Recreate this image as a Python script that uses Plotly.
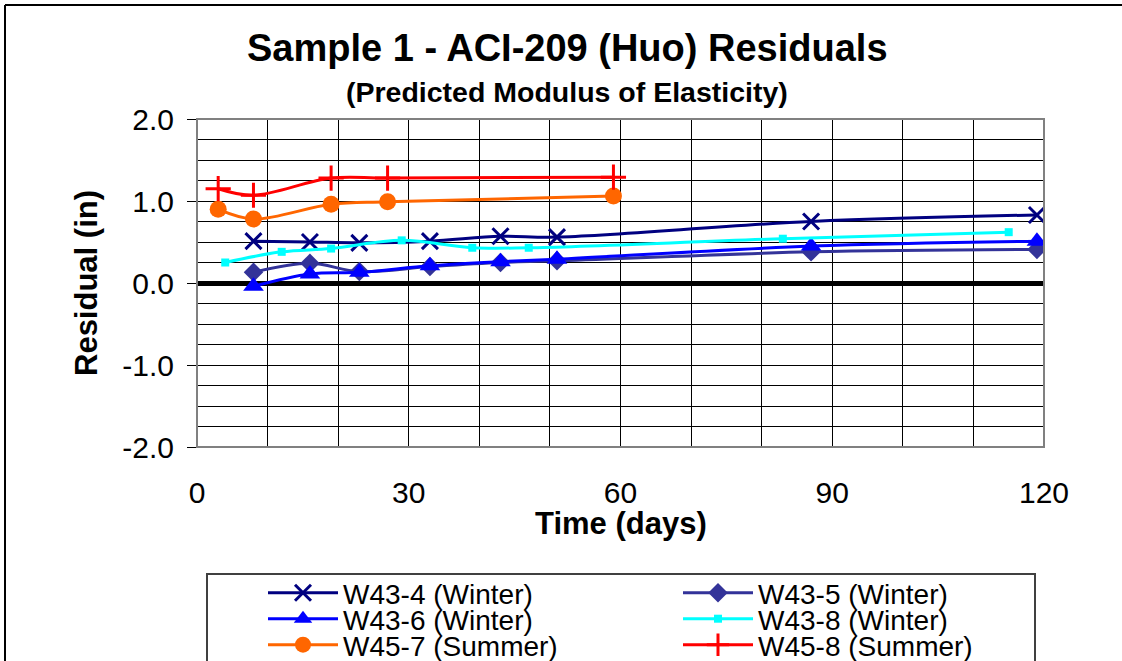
import plotly.graph_objects as go

# Residuals of predicted modulus of elasticity, per specimen
w43_4_days = [8, 16, 23, 33, 43, 51, 87, 119]
w43_4_res = [0.51, 0.50, 0.49, 0.51, 0.57, 0.56, 0.75, 0.83]

w43_5_days = [8, 16, 23, 33, 43, 51, 87, 119]
w43_5_res = [0.13, 0.24, 0.14, 0.20, 0.25, 0.27, 0.38, 0.41]

w43_6_days = [8, 16, 23, 33, 43, 51, 87, 119]
w43_6_res = [-0.04, 0.11, 0.13, 0.21, 0.26, 0.29, 0.45, 0.51]

w43_8_days = [4, 12, 19, 29, 39, 47, 83, 115]
w43_8_res = [0.25, 0.38, 0.42, 0.52, 0.43, 0.43, 0.54, 0.62]

w45_7_days = [3, 8, 19, 27, 59]
w45_7_res = [0.90, 0.78, 0.96, 0.99, 1.06]

w45_8_days = [3, 8, 19, 27, 59]
w45_8_res = [1.15, 1.07, 1.28, 1.28, 1.29]

x_ticks = [0, 30, 60, 90, 120]
y_ticks = [-2.0, -1.0, 0.0, 1.0, 2.0]

FONT = "Arial, Liberation Sans, sans-serif"
W, H = 1122, 661
ML, MR, MT, MB = 197, 78, 119, 214
PW, PH = W - ML - MR, H - MT - MB


def px_x(px):
    return (px - ML) / PW


def px_y(py):
    return (H - MB - py) / PH


series = [
    ("W43-4 (Winter)", w43_4_days, w43_4_res, "#000080",
     dict(symbol="x-thin-open", size=16, line=dict(width=3, color="#000080"))),
    ("W43-5 (Winter)", w43_5_days, w43_5_res, "#333399",
     dict(symbol="diamond", size=15, color="#333399")),
    ("W43-6 (Winter)", w43_6_days, w43_6_res, "#0000FF",
     dict(symbol="triangle-up", size=18, color="#0000FF")),
    ("W43-8 (Winter)", w43_8_days, w43_8_res, "#00FFFF",
     dict(symbol="square", size=8, color="#00FFFF")),
    ("W45-7 (Summer)", w45_7_days, w45_7_res, "#FF6600",
     dict(symbol="circle", size=17, color="#FF6600")),
    ("W45-8 (Summer)", w45_8_days, w45_8_res, "#FF0000",
     dict(symbol="cross-thin-open", size=18, line=dict(width=3, color="#FF0000"))),
]

# legend slots (container pixels): two columns, three rows
legend_cols = [263, 678]
legend_rows = [593, 619, 645]

fig = go.Figure()
layout_legends = {}
for i, (name, xs, ys, color, marker) in enumerate(series):
    key = "legend" if i == 0 else f"legend{i + 1}"
    fig.add_trace(go.Scatter(
        x=xs, y=ys, name=name, mode="lines+markers",
        line=dict(color=color, width=3, shape="spline"),
        marker=marker, legend=key,
    ))
    col, row = i % 2, i // 2
    layout_legends[key] = dict(
        xref="container", yref="container",
        x=legend_cols[col] / W, y=(H - legend_rows[row]) / H,
        xanchor="left", yanchor="middle",
        bgcolor="rgba(0,0,0,0)", borderwidth=0,
        font=dict(family=FONT, size=28, color="black"),
        itemwidth=70,
    )

shapes = [
    # plot area frame
    dict(type="rect", xref="paper", yref="paper", x0=0, y0=0, x1=1, y1=1,
         line=dict(color="#808080", width=2), layer="above"),
    # legend box
    dict(type="rect", xref="paper", yref="paper",
         x0=px_x(207), x1=px_x(1035), y0=px_y(574), y1=px_y(680),
         line=dict(color="#404040", width=2)),
    # chart border (left and top)
    dict(type="line", xref="paper", yref="paper",
         x0=px_x(5), x1=px_x(5), y0=px_y(5), y1=px_y(680),
         line=dict(color="black", width=2)),
    dict(type="line", xref="paper", yref="paper",
         x0=px_x(5), x1=px_x(1130), y0=px_y(5), y1=px_y(5),
         line=dict(color="black", width=2)),
]

annotations = [
    dict(text="<b>Sample 1 - ACI-209 (Huo) Residuals</b>", xref="paper", yref="paper",
         x=px_x(567), y=px_y(48), xanchor="center", yanchor="middle", showarrow=False,
         font=dict(family=FONT, size=38, color="black")),
    dict(text="<b>(Predicted Modulus of Elasticity)</b>", xref="paper", yref="paper",
         x=px_x(567), y=px_y(92), xanchor="center", yanchor="middle", showarrow=False,
         font=dict(family=FONT, size=28.5, color="black")),
    # axis titles
    dict(text="<b>Time (days)</b>", xref="paper", yref="paper",
         x=0.5, y=px_y(523), xanchor="center", yanchor="middle", showarrow=False,
         font=dict(family=FONT, size=31, color="black")),
    dict(text="<b>Residual (in)</b>", xref="paper", yref="paper", textangle=-90,
         x=px_x(86), y=0.5, xanchor="center", yanchor="middle", showarrow=False,
         font=dict(family=FONT, size=31, color="black")),
]

fig.update_layout(
    width=W, height=H,
    margin=dict(l=ML, r=MR, t=MT, b=MB, pad=0, autoexpand=False),
    paper_bgcolor="white", plot_bgcolor="white",
    font=dict(family=FONT, color="black"),
    showlegend=True,
    shapes=shapes, annotations=annotations,
    **layout_legends,
)

fig.update_xaxes(
    range=[0, 120], tickvals=x_ticks, ticktext=[str(v) for v in x_ticks],
    showgrid=True, gridcolor="black", gridwidth=1,
    minor=dict(dtick=10, showgrid=True, gridcolor="black", gridwidth=1),
    showline=True, linecolor="black", linewidth=1,
    ticks="", ticklabelstandoff=19,
    tickfont=dict(family=FONT, size=30, color="black"),
    zeroline=False,
)

fig.update_yaxes(
    range=[-2, 2], tickvals=y_ticks, ticktext=[f"{v:.1f}" for v in y_ticks],
    showgrid=True, gridcolor="black", gridwidth=1,
    minor=dict(dtick=0.25, showgrid=True, gridcolor="black", gridwidth=1,
               ticks="inside", ticklen=4, tickcolor="black"),
    showline=True, linecolor="black", linewidth=1,
    ticks="outside", ticklen=9, tickcolor="black", ticklabelstandoff=7,
    tickfont=dict(family=FONT, size=30, color="black"),
    zeroline=True, zerolinecolor="black", zerolinewidth=5,
)

fig.write_html("out.html")
